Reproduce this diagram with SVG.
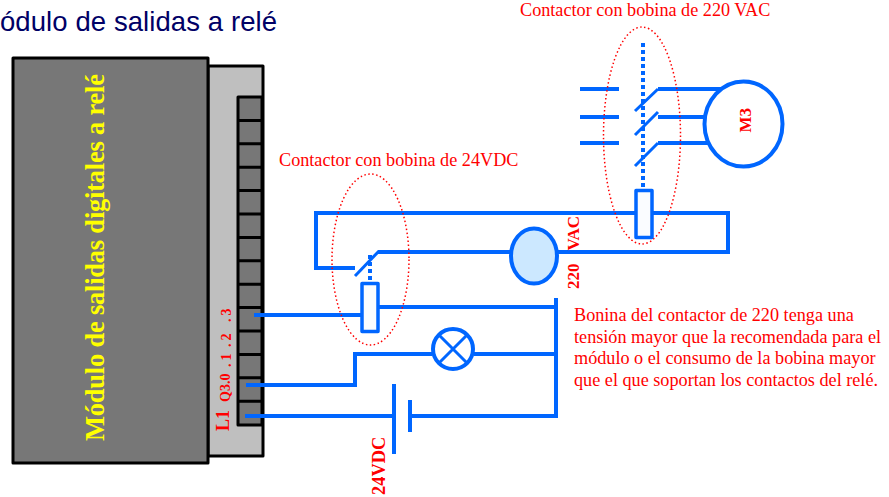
<svg xmlns="http://www.w3.org/2000/svg" width="889" height="497" viewBox="0 0 889 497">
<style>
.k{stroke:#000;stroke-width:3;stroke-linejoin:round}
.w{fill:none;stroke:#0066ff;stroke-width:4}
.n{fill:none;stroke:#0066ff;stroke-width:3}
.c{fill:#fafcff;stroke:#0066ff;stroke-width:3.500;stroke-linejoin:round}
.d{fill:none;stroke:#ff0000;stroke-width:1.500;stroke-dasharray:1.500 2.500}
.r{font-family:"Liberation Serif",serif;fill:#ff0000}
.b{font-weight:bold}
</style>
<rect width="889" height="497" fill="#fff"/>
<g id="title"><text x="0" y="31" font-family="Liberation Sans,sans-serif" font-size="27.500" fill="#000066" textLength="277">ódulo de salidas a relé</text></g>
<g id="module">
<rect class="k" x="208" y="66" width="55" height="390" fill="#bfbfbf"/>
<rect class="k" x="13" y="58" width="195" height="405" fill="#777777"/>
<path class="k" fill="#777777" d="M262 97H238V425H262V97M238 120.400H262M238 143.800H262M238 167.200H262M238 190.600H262M238 214H262M238 237.400H262M238 260.800H262M238 284.200H262M238 307.600H262M238 331H262M238 354.400H262M238 377.800H262M238 401.200H262"/>
<text transform="translate(104 441) rotate(-90)" font-family="Liberation Serif,serif" font-weight="bold" font-size="26.500" fill="#ffff00" textLength="367">Módulo de salidas digitales a relé</text>
</g>
<g id="terminal-labels">
<text class="r b" transform="translate(229 431) rotate(-90)" font-size="18">L1</text>
<text class="r b" transform="translate(230 402) rotate(-90)" font-size="14">Q3.0</text>
<text class="r b" transform="translate(231 367) rotate(-90)" font-size="14" letter-spacing="3">.1</text>
<text class="r b" transform="translate(231 347) rotate(-90)" font-size="14" letter-spacing="3">.2</text>
<text class="r b" transform="translate(231 322) rotate(-90)" font-size="14" letter-spacing="3">.3</text>
</g>
<g id="connectors">
<path class="w" d="M254 315H362M378 307H556M556 298V416H412M556 354H474M432 354H355V385H246M245 416H394"/>
<path class="w" d="M578 252H728V213H652M636 213H316V268H355M378 252H511M557 252H578"/>
<path class="n" d="M355 276L379 251"/>
<path class="w" d="M580 89H619M580 117H619M580 143H619M658 89H722M658 117H705M658 143H709"/>
<path class="n" d="M635 111L658 89M635 135L658 112M635 166L658 143"/>
<path class="w" d="M643 43V190" stroke-dasharray="4 3"/>
<path class="w" d="M370 255V283" stroke-dasharray="4 3"/>
<path class="w" d="M394 384V454M410 400V432"/>
</g>
<g id="coil-24"><rect class="c" x="362" y="283.500" width="16" height="48"/></g>
<g id="coil-220"><rect class="c" x="636" y="190.500" width="16" height="47"/></g>
<g id="coil-circle"><ellipse cx="534" cy="256" rx="23" ry="27.500" fill="#cce8ff" stroke="#0066ff" stroke-width="4"/></g>
<g id="lamp"><circle cx="453" cy="349" r="20" fill="#fff" stroke="#0066ff" stroke-width="4"/><path class="n" d="M439 335L467 363M467 335L439 363"/></g>
<g id="motor"><ellipse cx="743.500" cy="124" rx="39" ry="42.500" fill="#fff" stroke="#0066ff" stroke-width="4"/><text class="r b" transform="translate(751 132.500) rotate(-90)" font-size="17">M3</text></g>
<g id="ellipses">
<ellipse class="d" cx="370.500" cy="259.500" rx="38.500" ry="85.500"/>
<ellipse class="d" cx="642" cy="135.500" rx="38.500" ry="108.500"/>
</g>
<g id="labels">
<text class="r" x="520" y="16" font-size="18.200">Contactor con bobina de 220 VAC</text>
<text class="r" x="279" y="166" font-size="18.200">Contactor con bobina de 24VDC</text>
<text class="r b" transform="translate(579 289) rotate(-90)" font-size="17" word-spacing="9">220 VAC</text>
<text class="r b" transform="translate(385 495) rotate(-90)" font-size="18.400">24VDC</text>
<text class="r" font-size="18.200"><tspan x="574" y="321">Bonina del contactor de 220 tenga una</tspan><tspan x="574" y="343">tensión mayor que la recomendada para el</tspan><tspan x="574" y="364">módulo o el consumo de la bobina mayor</tspan><tspan x="574" y="386">que el que soportan los contactos del relé.</tspan></text>
</g>
</svg>
